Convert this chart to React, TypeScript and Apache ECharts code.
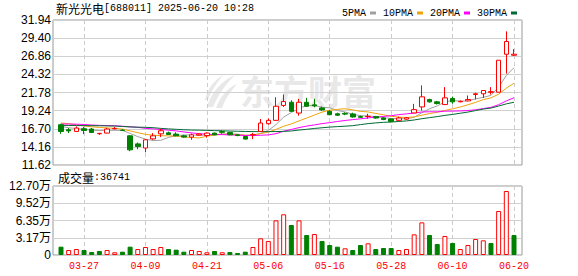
import React, { useEffect, useRef } from 'react';
import * as echarts from 'echarts';

const stockName = '新光光电';
const stockCode = '[688011]';
const stampText = '2025-06-20 10:28';
const volTitle = '成交量';
const watermark = '东方财富';
const legendNames = ['5PMA', '10PMA', '20PMA', '30PMA'];
const maColors = ['#a0a0a0', '#f0a30a', '#ff00ff', '#006a35'];

const dates = [
  '03-24', '03-25', '03-26', '03-27', '03-28', '03-31', '04-01', '04-02', '04-03', '04-07',
  '04-08', '04-09', '04-10', '04-11', '04-14', '04-15', '04-16', '04-17', '04-18', '04-21',
  '04-22', '04-23', '04-24', '04-25', '04-28', '04-29', '04-30', '05-06', '05-07', '05-08',
  '05-09', '05-12', '05-13', '05-14', '05-15', '05-16', '05-19', '05-20', '05-21', '05-22',
  '05-23', '05-26', '05-27', '05-28', '05-29', '05-30', '06-03', '06-04', '06-05', '06-06',
  '06-09', '06-10', '06-11', '06-12', '06-13', '06-16', '06-17', '06-18', '06-19', '06-20',
];

const opens = [
  17.26, 16.56, 16.32, 16.70, 16.66, 16.00, 16.09, 16.70, 16.50, 15.71,
  14.58, 14.00, 15.28, 15.99, 16.13, 15.95, 15.71, 15.53, 15.80, 15.75,
  16.09, 16.30, 16.18, 15.85, 15.61, 15.85, 16.32, 17.41, 17.88, 19.97,
  20.41, 18.90, 20.41, 20.05, 19.62, 19.14, 18.80, 18.85, 18.77, 18.40,
  18.40, 18.40, 18.20, 18.07, 17.88, 18.05, 18.92, 19.76, 20.79, 20.47,
  20.09, 20.94, 20.48, 20.60, 21.50, 21.60, 21.80, 21.82, 27.14, 27.00,
];
const closes = [
  16.32, 16.40, 16.80, 16.46, 16.18, 16.05, 16.66, 16.74, 16.46, 13.74,
  14.20, 15.15, 15.71, 16.42, 15.90, 15.71, 15.53, 15.85, 15.95, 16.09,
  15.85, 16.20, 15.85, 15.75, 15.25, 15.90, 17.50, 17.88, 19.85, 20.51,
  19.14, 20.41, 19.85, 19.90, 19.34, 18.67, 18.60, 18.75, 18.35, 18.30,
  18.45, 18.20, 18.00, 17.73, 18.21, 18.25, 19.38, 21.17, 20.47, 20.23,
  21.03, 20.47, 20.55, 20.80, 21.60, 22.06, 21.90, 26.30, 28.93, 27.15,
];
const lows = [
  15.99, 16.09, 16.30, 15.95, 16.10, 15.85, 16.05, 16.60, 16.40, 13.55,
  13.83, 13.41, 15.15, 15.53, 15.85, 15.65, 15.45, 15.15, 15.70, 15.45,
  15.80, 15.99, 15.80, 15.65, 15.20, 15.25, 16.30, 17.26, 17.80, 19.76,
  19.10, 18.53, 19.80, 19.70, 19.20, 18.60, 18.50, 18.60, 18.25, 18.20,
  18.10, 18.10, 17.90, 17.60, 17.80, 17.95, 18.90, 19.24, 20.35, 20.10,
  20.05, 20.20, 20.40, 20.55, 20.80, 21.03, 21.50, 21.80, 24.42, 26.90,
];
const highs = [
  17.40, 16.80, 17.03, 16.94, 16.80, 16.13, 16.84, 16.94, 16.62, 15.81,
  14.77, 15.25, 16.09, 16.70, 16.30, 16.20, 15.85, 16.04, 16.10, 16.20,
  16.15, 16.50, 16.25, 15.95, 15.70, 16.13, 18.07, 18.15, 21.12, 21.50,
  20.69, 20.89, 21.03, 20.90, 19.80, 19.30, 18.95, 19.00, 18.95, 18.55,
  18.80, 18.50, 18.30, 18.15, 18.40, 18.35, 20.19, 22.77, 20.90, 20.60,
  22.53, 21.20, 20.65, 21.36, 21.74, 22.06, 22.53, 26.30, 30.35, 27.85,
];
const volumes = [
  15300, 9200, 11000, 9200, 5500, 7400, 9200, 5000, 6100, 15300,
  11000, 14700, 11000, 14700, 11000, 9800, 6100, 9200, 7400, 5000,
  7400, 5000, 5500, 3700, 6100, 14700, 30700, 25800, 63800, 74900,
  55200, 63800, 36800, 38600, 25800, 18400, 15300, 12300, 9200, 18400,
  21500, 11000, 12900, 12900, 9200, 11000, 38000, 60100, 36800, 20200,
  35000, 22100, 11000, 18400, 29400, 27000, 22100, 81000, 117800, 36741,
];

const ma5 = [
  17.03, 16.84, 16.74, 16.62, 16.50, 16.45, 16.48, 16.48, 16.47, 16.05,
  15.60, 15.25, 15.05, 15.08, 15.48, 15.75, 15.82, 15.85, 15.78, 15.82,
  15.85, 15.97, 15.98, 15.94, 15.78, 15.80, 16.05, 16.46, 17.28, 18.33,
  18.98, 19.56, 19.95, 19.96, 19.73, 19.63, 19.27, 19.05, 18.74, 18.53,
  18.49, 18.41, 18.26, 18.14, 18.12, 18.08, 18.31, 18.95, 19.50, 19.90,
  20.46, 20.67, 20.55, 20.62, 20.89, 21.10, 21.38, 22.53, 24.16, 25.27,
];
const ma10 = [
  17.50, 17.41, 17.25, 17.10, 16.98, 16.88, 16.82, 16.76, 16.65, 16.40,
  16.15, 15.92, 15.80, 15.73, 15.70, 15.67, 15.56, 15.47, 15.42, 15.65,
  15.82, 15.92, 15.94, 15.87, 15.80, 15.82, 16.02, 16.22, 16.61, 17.05,
  17.38, 17.80, 18.20, 18.62, 19.03, 19.31, 19.42, 19.50, 19.35, 19.13,
  19.06, 18.84, 18.66, 18.44, 18.33, 18.28, 18.36, 18.60, 18.82, 19.01,
  19.27, 19.49, 19.75, 20.06, 20.40, 20.78, 21.03, 21.54, 22.39, 23.08,
];
const ma20 = [
  17.36, 17.36, 17.34, 17.30, 17.22, 17.17, 17.15, 17.12, 17.05, 16.98,
  16.90, 16.75, 16.68, 16.60, 16.50, 16.40, 16.25, 16.12, 16.02, 15.92,
  15.89, 15.88, 15.84, 15.80, 15.75, 15.75, 15.79, 15.84, 16.01, 16.35,
  16.60, 16.86, 17.07, 17.24, 17.42, 17.56, 17.72, 17.86, 17.98, 18.09,
  18.22, 18.32, 18.43, 18.53, 18.68, 18.79, 18.89, 19.05, 19.08, 19.07,
  19.16, 19.17, 19.20, 19.25, 19.36, 19.53, 19.70, 20.07, 20.60, 21.04,
];
const ma30 = [
  17.17, 17.16, 17.15, 17.14, 17.13, 17.12, 17.10, 17.08, 17.02, 16.95,
  16.92, 16.90, 16.85, 16.75, 16.68, 16.62, 16.56, 16.52, 16.50, 16.47,
  16.44, 16.41, 16.38, 16.35, 16.32, 16.30, 16.30, 16.30, 16.31, 16.33,
  16.39, 16.52, 16.62, 16.74, 16.84, 16.93, 17.00, 17.06, 17.13, 17.28,
  17.42, 17.52, 17.60, 17.64, 17.72, 17.80, 17.93, 18.11, 18.26, 18.40,
  18.57, 18.71, 18.87, 19.04, 19.25, 19.46, 19.60, 19.88, 20.19, 20.41,
];

const priceMin = 11.62;
const priceMax = 31.94;
const priceStep = 2.54;
const volMax = 127000;
const volStep = 31750;
const labelEvery = 8;
const labelOffset = 3;

const MONO = "'Liberation Mono', 'DejaVu Sans Mono', monospace";
const CJK = "'Noto Sans CJK SC', sans-serif";
const NUM = "'Liberation Sans', Arial, 'Noto Sans CJK SC', sans-serif";
const RED = '#ff0000';
const GREEN = '#008000';

let logoRegistered = false;
function registerLogo() {
  if (logoRegistered) return;
  const d =
    'M2 34 C6 20 16 8 30 2 C22 10 14 20 8 34 Z ' +
    'M11 35 C15 24 22 15 32 11 C26 18 20 26 17 35 Z ' +
    'M0 27 C2 17 8 8 18 2 C12 10 6 18 3 27 Z';
  echarts.graphic.registerShape('emLogo', echarts.graphic.extendPath(d, {}));
  logoRegistered = true;
}

function volLabel(v: number) {
  if (v === 0) return '0';
  const t = Math.floor(Math.round(v) / 100) / 100;
  return t.toFixed(2) + '万';
}

export default function App() {
  const ref = useRef<HTMLDivElement>(null);
  useEffect(() => {
    if (!ref.current) return;
    registerLogo();
    const chart = echarts.init(ref.current, undefined, { renderer: 'svg' });
    const showIdx = (i: number) => i % labelEvery === labelOffset;
    const dashed = { show: true, interval: showIdx, lineStyle: { color: '#cccccc', type: [4, 3] as any, width: 1 } };
    const volItems = volumes.map((v, i) => {
      const prev = i > 0 ? closes[i - 1] : opens[i];
      const up = closes[i] >= prev;
      return {
        value: v,
        itemStyle: up
          ? { color: '#ffffff', borderColor: RED, borderWidth: 1 }
          : { color: GREEN, borderColor: GREEN, borderWidth: 1 },
      };
    });
    const mas = [ma5, ma10, ma20, ma30];
    const option: any = {
      animation: false,
      backgroundColor: '#ffffff',
      legend: {
        data: legendNames,
        left: 337,
        top: 3,
        align: 'right',
        icon: 'rect',
        itemWidth: 6,
        itemHeight: 3,
        itemGap: 7,
        selectedMode: false,
        textStyle: { fontFamily: MONO, fontSize: 10, color: '#000', padding: [0, -1, 0, 0] },
      },
      grid: [
        { left: 53, width: 469, top: 20, height: 145, show: true, borderColor: '#999999', borderWidth: 1, backgroundColor: 'transparent' },
        { left: 61, width: 453, top: 20, height: 145 },
        { left: 53, width: 469, top: 186, height: 69, show: true, borderColor: '#999999', borderWidth: 1, backgroundColor: 'transparent' },
        { left: 61, width: 453, top: 186, height: 69 },
      ],
      xAxis: [
        { gridIndex: 0, type: 'value', show: false, min: 0, max: 1 },
        {
          gridIndex: 1, type: 'category', data: dates, boundaryGap: false,
          axisLine: { show: false }, axisTick: { show: false }, axisLabel: { show: false },
          splitLine: dashed,
        },
        { gridIndex: 2, type: 'value', show: false, min: 0, max: 1 },
        {
          gridIndex: 3, type: 'category', data: dates, boundaryGap: false,
          axisLine: { show: false }, axisTick: { show: false },
          axisLabel: { show: true, interval: showIdx, color: RED, fontFamily: MONO, fontSize: 10, margin: 6 },
          splitLine: dashed,
        },
      ],
      yAxis: [
        {
          gridIndex: 0, type: 'value', min: priceMin, max: priceMax, interval: priceStep,
          axisLine: { show: false }, axisTick: { show: false },
          axisLabel: { formatter: (v: number) => v.toFixed(2), color: '#000', fontFamily: NUM, fontSize: 12, margin: 2 },
          splitLine: { show: true, lineStyle: { color: '#d0d0d0', width: 1 } },
        },
        { gridIndex: 1, type: 'value', min: priceMin, max: priceMax, show: false, splitLine: { show: false } },
        {
          gridIndex: 2, type: 'value', min: 0, max: volMax, interval: volStep,
          axisLine: { show: false }, axisTick: { show: false },
          axisLabel: { formatter: volLabel, color: '#000', fontFamily: NUM, fontSize: 12, margin: 2 },
          splitLine: { show: true, lineStyle: { color: '#d0d0d0', width: 1 } },
        },
        { gridIndex: 3, type: 'value', min: 0, max: volMax, show: false, splitLine: { show: false } },
      ],
      graphic: [
        {
          type: 'text', left: 56, top: 2, z: 10,
          style: {
            text: `{c|${stockName}}{m|${stockCode} ${stampText}}`,
            rich: {
              c: { fontFamily: CJK, fontSize: 12, fill: '#000', lineHeight: 14 },
              m: { fontFamily: MONO, fontSize: 10, fill: '#000', lineHeight: 14 },
            },
          },
        },
        {
          type: 'text', left: 58, top: 171, z: 10,
          style: {
            text: `{c|${volTitle}}{m|:${volumes[volumes.length - 1]}}`,
            rich: {
              c: { fontFamily: CJK, fontSize: 12, fill: '#000', lineHeight: 14 },
              m: { fontFamily: MONO, fontSize: 10, fill: '#000', lineHeight: 14 },
            },
          },
        },
        {
          type: 'emLogo', x: 205, y: 73, scaleX: 1, scaleY: 1, z: -1,
          style: { fill: '#e8e8e8' },
        },
        {
          type: 'text', x: 240, y: 90, z: -1,
          style: {
            text: watermark, fill: '#e8e8e8', fontFamily: CJK, fontWeight: 'bold', fontSize: 34,
            verticalAlign: 'middle', textAlign: 'left',
          },
        },
      ],
      series: [
        {
          type: 'candlestick', xAxisIndex: 1, yAxisIndex: 1, z: 3, clip: false, barWidth: 5,
          data: dates.map((_, i) => [opens[i], closes[i], lows[i], highs[i]]),
          itemStyle: { color: '#ffffff', color0: GREEN, borderColor: RED, borderColor0: GREEN, borderWidth: 1 },
        },
        ...legendNames.map((name, k) => ({
          name, type: 'line', xAxisIndex: 1, yAxisIndex: 1, z: 2, data: mas[k], symbol: 'none',
          lineStyle: { width: 1, color: maColors[k] }, itemStyle: { color: maColors[k] },
        })),
        {
          type: 'bar', xAxisIndex: 3, yAxisIndex: 3, clip: false, barWidth: 5, data: volItems,
        },
      ],
    };
    chart.setOption(option);
    return () => chart.dispose();
  }, []);
  return (
    <div
      ref={ref}
      style={{ position: 'fixed', left: 0, top: 0, width: 578, height: 276, background: '#fff' }}
    />
  );
}
